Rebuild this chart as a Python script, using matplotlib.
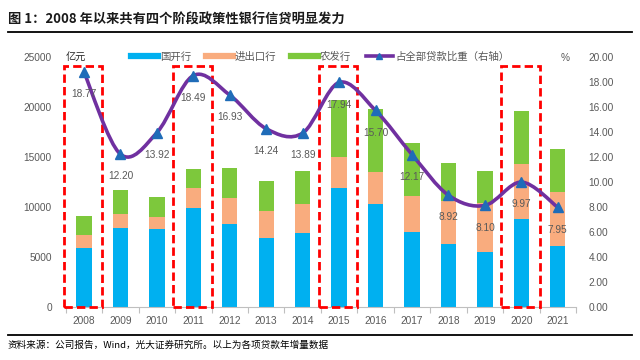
import matplotlib
matplotlib.use("Agg")
import matplotlib.pyplot as plt
import numpy as np
from matplotlib.path import Path
from matplotlib.patches import PathPatch, Rectangle
from matplotlib.lines import Line2D

plt.rcParams['font.family'] = ['Liberation Sans', 'Noto Sans CJK SC', 'DejaVu Sans']

years = ['2008', '2009', '2010', '2011', '2012', '2013', '2014', '2015',
         '2016', '2017', '2018', '2019', '2020', '2021']
cdb = [5900, 7900, 7770, 9870, 8300, 6900, 7330, 11900, 10270, 7470, 6300, 5470, 8730, 6030]
exim = [1270, 1400, 1160, 2000, 2600, 2670, 2910, 3100, 3200, 3630, 4300, 4860, 5500, 5440]
adbc = [1930, 2340, 2010, 1900, 2940, 3030, 3300, 5670, 6300, 5230, 3730, 3240, 5300, 4330]
share = [18.77, 12.20, 13.92, 18.49, 16.93, 14.24, 13.89, 17.94, 15.70, 12.17, 8.92, 8.10, 9.97, 7.95]
share_labels = ['18.77', '12.20', '13.92', '18.49', '16.93', '14.24', '13.89', '17.94',
                '15.70', '12.17', '8.92', '8.10', '9.97', '7.95']
highlight = ['2008', '2011', '2015', '2020']
series_names = ['国开行', '进出口行', '农发行', '占全部贷款比重（右轴）']

C_BLUE = '#00B0F0'
C_ORANGE = '#F9AC7E'
C_GREEN = '#7DC83C'
C_PURPLE = '#7030A0'
C_MARK = '#1F6CB8'
GREY = '#595959'

fig = plt.figure(figsize=(6.4, 3.6), dpi=100)
W, H = 640, 360
ax = fig.add_axes([65.75 / W, 1 - 306.7 / H, (576 - 65.75) / W, (306.7 - 56.7) / H])
ax2 = ax.twinx()

x = np.arange(len(years))
bw = 0.42
b1 = np.array(cdb)
b2 = np.array(exim)
b3 = np.array(adbc)
ax.bar(x, b1, bw, color=C_BLUE, zorder=2)
ax.bar(x, b2, bw, bottom=b1, color=C_ORANGE, zorder=2)
ax.bar(x, b3, bw, bottom=b1 + b2, color=C_GREEN, zorder=2)

ax.set_xlim(-0.5, len(years) - 0.5)
ax.set_ylim(0, 25000)
ax.set_yticks(np.arange(0, 25001, 5000))
ax.set_xticks(x)
ax.set_xticklabels(years)
ax.set_xticks(np.arange(-0.5, len(years), 1), minor=True)
ax.tick_params(axis='x', which='major', length=0, pad=7, labelsize=7.3, labelcolor=GREY)
ax.tick_params(axis='x', which='minor', length=4, color='#BFBFBF', width=0.8)
ax.tick_params(axis='y', length=0, pad=10, labelsize=7.3, labelcolor=GREY)
for s in ['top', 'right', 'left']:
    ax.spines[s].set_visible(False)
ax.spines['bottom'].set_color('#BFBFBF')
ax.spines['bottom'].set_linewidth(0.8)

ax2.set_ylim(0, 20)
ax2.set_yticks(np.arange(0, 20.01, 2))
ax2.set_yticklabels(['%.2f' % v for v in np.arange(0, 20.01, 2)])
ax2.tick_params(axis='y', length=0, pad=9, labelsize=7.3, labelcolor=GREY)
for s in ['top', 'right', 'left', 'bottom']:
    ax2.spines[s].set_visible(False)

# smooth line (Excel-like Catmull-Rom bezier) through data points
px = x.astype(float)
py = np.array(share, dtype=float)
verts = [(px[0], py[0])]
codes = [Path.MOVETO]
n = len(px)
for i in range(n - 1):
    p0 = np.array([px[max(i - 1, 0)], py[max(i - 1, 0)]])
    p1 = np.array([px[i], py[i]])
    p2 = np.array([px[i + 1], py[i + 1]])
    p3 = np.array([px[min(i + 2, n - 1)], py[min(i + 2, n - 1)]])
    c1 = p1 + (p2 - p0) / 6.0
    c2 = p2 - (p3 - p1) / 6.0
    verts += [tuple(c1), tuple(c2), tuple(p2)]
    codes += [Path.CURVE4, Path.CURVE4, Path.CURVE4]
ax2.add_patch(PathPatch(Path(verts, codes), facecolor='none', edgecolor=C_PURPLE,
                        lw=2.6, zorder=3, capstyle='round'))
ax2.plot(px, py, linestyle='none', marker='^', markersize=7, color=C_MARK, zorder=4)
for xi, yi, lab in zip(px, py, share_labels):
    ax2.annotate(lab, (xi, yi), xytext=(0, -16), textcoords='offset points',
                 ha='center', va='center', fontsize=7.3, color=GREY, zorder=5)

# red dashed highlight boxes
for yr in highlight:
    i = years.index(yr)
    ax.add_patch(Rectangle((i - 0.55, -60), 1.05, 24150, fill=False, edgecolor='#FF0000',
                           lw=2.0, linestyle=(0, (3, 1.5)), zorder=6, clip_on=False))

# axis unit labels
fig.text(66 / W, 1 - 57 / H, '亿元', fontsize=7.3, color='#262626', ha='left', va='center',
         family=['Noto Sans CJK SC', 'DejaVu Sans'])
fig.text(565 / W, 1 - 58 / H, '%', fontsize=7.3, color=GREY, ha='center', va='center')

# legend
handles = [Line2D([], [], color=C_BLUE, lw=4.5),
           Line2D([], [], color=C_ORANGE, lw=4.5),
           Line2D([], [], color=C_GREEN, lw=4.5),
           Line2D([], [], color=C_PURPLE, lw=2.6, marker='^', markersize=4,
                  markerfacecolor=C_MARK, markeredgecolor=C_MARK)]
leg = fig.legend(handles, series_names, loc='center', bbox_to_anchor=(320 / W, 1 - 57 / H),
                 ncol=4, frameon=False, handlelength=2.6, handletextpad=0.2,
                 columnspacing=1.4, prop={'family': ['Noto Sans CJK SC', 'DejaVu Sans'], 'size': 7.5})
for t in leg.get_texts():
    t.set_color(GREY)

# title, rules and footer
fig.text(8 / W, 1 - 20 / H, '图 1：2008 年以来共有四个阶段政策性银行信贷明显发力', fontsize=9.5,
         fontweight='bold', color='#1a1a1a', ha='left', va='center',
         family=['Noto Sans CJK SC', 'DejaVu Sans'])
fig.add_artist(Line2D([8 / W, 632 / W], [1 - 31.7 / H, 1 - 31.7 / H], color='black', lw=1.3))
fig.add_artist(Line2D([8 / W, 632 / W], [1 - 335 / H, 1 - 335 / H], color='black', lw=1.3))
fig.text(8 / W, 1 - 345 / H, '资料来源：公司报告，Wind，光大证券研究所。以上为各项贷款年增量数据',
         fontsize=6.9, color='black', ha='left', va='center',
         family=['Noto Sans CJK SC', 'DejaVu Sans'])

fig.savefig('out.png', dpi=100)
